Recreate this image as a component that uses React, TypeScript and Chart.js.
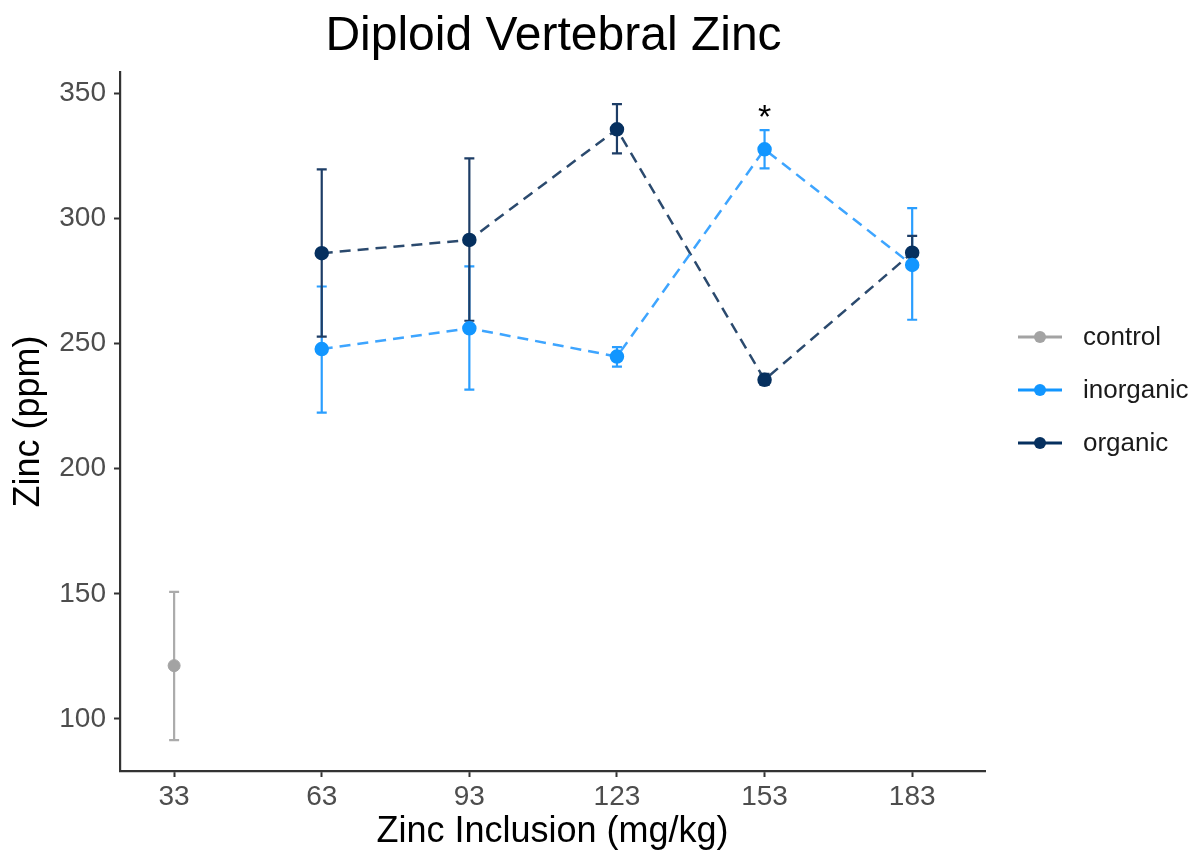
import React, { useEffect, useRef } from 'react';
import { Chart, registerables } from 'chart.js';

Chart.register(...registerables);

const FONT = "'Liberation Sans', Arial, Helvetica, sans-serif";

// ---- data ----
const chartTitle = 'Diploid Vertebral Zinc';
const xTitle = 'Zinc Inclusion (mg/kg)';
const yTitle = 'Zinc (ppm)';

const xTicks = [33, 63, 93, 123, 153, 183];
const yTicks = [100, 150, 200, 250, 300, 350];

const controlX = [33];
const controlMean = [121.3];
const controlLow = [91.5];
const controlHigh = [150.8];

const doseX = [63, 93, 123, 153, 183];
const inorganicMean = [247.8, 256.1, 244.8, 327.6, 281.4];
const inorganicLow = [222.4, 231.6, 240.8, 320.0, 259.5];
const inorganicHigh = [272.8, 280.8, 248.6, 335.3, 304.1];

const organicMean = [286.1, 291.4, 335.6, 235.5, 286.3];
const organicLow = [252.8, 259.1, 326.0, 233.5, 280.8];
const organicHigh = [319.6, 324.0, 345.7, 237.9, 293.0];

const sigX = [153];
const sigY = [340];
const sigLabel = ['*'];

const seriesNames = ['control', 'inorganic', 'organic'];

// ---- styles ----
const pointColors = ['#a3a3a3', '#1296ff', '#06305f'];
const lineColors = ['#a3a3a3', '#3ea5ff', '#2b4a6e'];
const barColors = ['#ababab', '#2a9eff', '#1d3d66'];

const toPts = (xs: number[], ys: number[]) => xs.map((x, i) => ({ x, y: ys[i] }));

export default function App() {
  const ref = useRef<HTMLCanvasElement>(null);

  useEffect(() => {
    document.body.style.margin = '0';
    const canvas = ref.current;
    if (!canvas) return;

    const errorBars = [
      { ds: 0, xs: controlX, low: controlLow, high: controlHigh },
      { ds: 1, xs: doseX, low: inorganicLow, high: inorganicHigh },
      { ds: 2, xs: doseX, low: organicLow, high: organicHigh },
    ];

    const errorBarPlugin = {
      id: 'errorBars',
      beforeDatasetsDraw(chart: any) {
        const { ctx, scales } = chart;
        ctx.save();
        ctx.setLineDash([]);
        ctx.lineWidth = 2.2;
        errorBars.forEach((eb) => {
          ctx.strokeStyle = barColors[eb.ds];
          eb.xs.forEach((xv, i) => {
            const px = scales.x.getPixelForValue(xv);
            const pl = scales.y.getPixelForValue(eb.low[i]);
            const ph = scales.y.getPixelForValue(eb.high[i]);
            ctx.beginPath();
            ctx.moveTo(px, pl);
            ctx.lineTo(px, ph);
            ctx.moveTo(px - 5, pl);
            ctx.lineTo(px + 5, pl);
            ctx.moveTo(px - 5, ph);
            ctx.lineTo(px + 5, ph);
            ctx.stroke();
          });
        });
        ctx.restore();
      },
    };

    const decorPlugin = {
      id: 'decor',
      afterDraw(chart: any) {
        const { ctx, chartArea, scales } = chart;
        ctx.save();
        // title
        ctx.fillStyle = '#000';
        ctx.font = `48px ${FONT}`;
        ctx.textAlign = 'center';
        ctx.textBaseline = 'alphabetic';
        ctx.fillText(chartTitle, (chartArea.left + chartArea.right) / 2 + 1, 50);

        // significance marks
        ctx.font = `34px ${FONT}`;
        ctx.textBaseline = 'middle';
        sigX.forEach((xv, i) => {
          ctx.fillText(sigLabel[i], scales.x.getPixelForValue(xv), scales.y.getPixelForValue(sigY[i]));
        });

        // legend
        const lx0 = 1018;
        const lx1 = 1062;
        const tx = 1083;
        const rows = [337, 390, 443];
        ctx.font = `26px ${FONT}`;
        ctx.textAlign = 'left';
        seriesNames.forEach((name, i) => {
          const y = rows[i];
          ctx.setLineDash([]);
          ctx.strokeStyle = pointColors[i];
          ctx.lineWidth = 3;
          ctx.beginPath();
          ctx.moveTo(lx0, y);
          ctx.lineTo(lx1, y);
          ctx.stroke();
          ctx.fillStyle = pointColors[i];
          ctx.beginPath();
          ctx.arc((lx0 + lx1) / 2, y, 6, 0, Math.PI * 2);
          ctx.fill();
          ctx.fillStyle = '#1a1a1a';
          ctx.fillText(name, tx, y + 1);
        });
        ctx.restore();
      },
    };

    const chart = new Chart(canvas, {
      type: 'line',
      data: {
        datasets: [
          {
            label: seriesNames[0],
            data: toPts(controlX, controlMean),
            showLine: false,
            borderColor: lineColors[0],
            pointBackgroundColor: pointColors[0],
            pointBorderColor: pointColors[0],
            pointRadius: 6,
          },
          {
            label: seriesNames[1],
            data: toPts(doseX, inorganicMean),
            borderColor: lineColors[1],
            borderWidth: 2.5,
            borderDash: [11, 7],
            pointBackgroundColor: pointColors[1],
            pointBorderColor: pointColors[1],
            pointRadius: 6,
            tension: 0,
          },
          {
            label: seriesNames[2],
            data: toPts(doseX, organicMean),
            borderColor: lineColors[2],
            borderWidth: 2.5,
            borderDash: [11, 7],
            pointBackgroundColor: pointColors[2],
            pointBorderColor: pointColors[2],
            pointRadius: 6,
            tension: 0,
          },
        ],
      },
      options: {
        responsive: false,
        animation: false,
        devicePixelRatio: 1,
        layout: { padding: { top: 72, right: 211, left: 0, bottom: 0 } },
        plugins: {
          legend: { display: false },
          title: { display: false },
          tooltip: { enabled: false },
        },
        scales: {
          x: {
            type: 'linear',
            min: 22.0,
            max: 197.8,
            afterBuildTicks: (s: any) => {
              s.ticks = xTicks.map((v) => ({ value: v }));
            },
            afterFit: (s: any) => {
              s.height = 84;
            },
            ticks: {
              color: '#4d4d4d',
              font: { family: FONT, size: 28 },
              padding: 3,
              autoSkip: false,
              maxRotation: 0,
              callback: (v: any) => String(v),
            },
            grid: { drawOnChartArea: false, drawTicks: true, tickLength: 6, color: '#333', tickWidth: 2 },
            border: { display: true, color: '#333', width: 2.2 },
            title: {
              display: true,
              text: xTitle,
              color: '#000',
              font: { family: FONT, size: 36 },
              padding: { top: 0, bottom: 1 },
            },
          },
          y: {
            type: 'linear',
            min: 79.2,
            max: 358.5,
            afterBuildTicks: (s: any) => {
              s.ticks = yTicks.map((v) => ({ value: v }));
            },
            afterFit: (s: any) => {
              s.width = 120;
            },
            ticks: {
              color: '#4d4d4d',
              font: { family: FONT, size: 28 },
              padding: 8,
              callback: (v: any) => String(v),
            },
            grid: { drawOnChartArea: false, drawTicks: true, tickLength: 6, color: '#333', tickWidth: 2 },
            border: { display: true, color: '#333', width: 2.2 },
            title: {
              display: true,
              text: yTitle,
              color: '#000',
              font: { family: FONT, size: 36 },
              padding: { top: 7, bottom: 0 },
            },
          },
        },
      },
      plugins: [errorBarPlugin, decorPlugin],
    } as any);

    return () => chart.destroy();
  }, []);

  return (
    <div style={{ width: 1196, height: 855 }}>
      <canvas ref={ref} width={1196} height={855} style={{ display: 'block' }} />
    </div>
  );
}
